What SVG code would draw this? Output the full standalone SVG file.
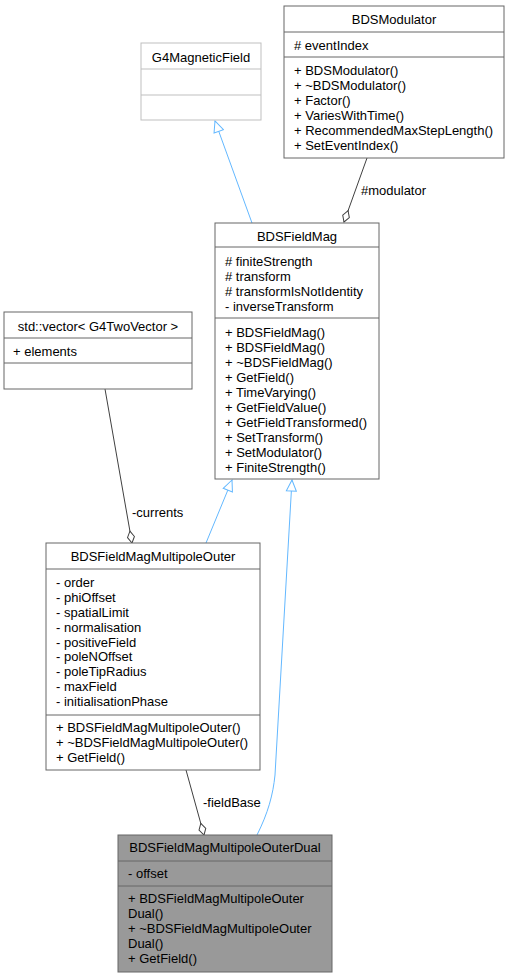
<svg xmlns="http://www.w3.org/2000/svg" width="510" height="978" viewBox="0 0 510 978">
<style>
text{font-family:"Liberation Sans",Arial,sans-serif;font-size:13px;fill:#000}
.t{text-anchor:middle}
.box{fill:#fff;stroke:#666;stroke-width:1}
.gbox{fill:#fff;stroke:#bfbfbf;stroke-width:1}
.dbox{fill:#999;stroke:#666;stroke-width:1}
.sep{stroke:#666;stroke-width:1}
.gsep{stroke:#bfbfbf;stroke-width:1}
.inh{fill:none;stroke:#63b8ff;stroke-width:1;marker-end:url(#tri)}
.agg{fill:none;stroke:#404040;stroke-width:1;marker-end:url(#dia)}
</style>
<defs>
<marker id="tri" markerUnits="userSpaceOnUse" markerWidth="14" markerHeight="12" refX="11" refY="5" orient="auto" viewBox="-1 -1 14 12">
<path d="M0,0 L11,5 L0,10 Z" fill="#fff" stroke="#63b8ff" stroke-width="1"/>
</marker>
<marker id="dia" markerUnits="userSpaceOnUse" markerWidth="15" markerHeight="10" refX="12" refY="4" orient="auto" viewBox="-1 -1 15 10">
<path d="M0,4 L6,0.5 L12,4 L6,7.5 Z" fill="#fff" stroke="#404040" stroke-width="1"/>
</marker>
</defs>
<g id="connectors">
<path class="inh" d="M252,223 L215,121"/>
<path class="agg" d="M367,158 L344,222"/>
<text x="361" y="195">#modulator</text>
<path class="agg" d="M105,389 L132,543"/>
<text x="132" y="517">-currents</text>
<path class="inh" d="M206,543 L232,480"/>
<path class="inh" d="M257,835 C268,813 273,795 275,775 L292,480"/>
<path class="agg" d="M186,770 L204,835"/>
<text x="203" y="807">-fieldBase</text>
</g>
<g id="G4MagneticField">
<rect class="gbox" x="141" y="43" width="120" height="77"/>
<line class="gsep" x1="141" y1="69" x2="261" y2="69"/>
<line class="gsep" x1="141" y1="95" x2="261" y2="95"/>
<text class="t" x="201" y="62">G4MagneticField</text>
</g>
<g id="BDSModulator">
<rect class="box" x="284" y="6" width="220" height="152"/>
<line class="sep" x1="284" y1="32" x2="504" y2="32"/>
<line class="sep" x1="284" y1="57" x2="504" y2="57"/>
<text class="t" x="394" y="24">BDSModulator</text>
<text x="294" y="50"># eventIndex</text>
<text x="294" y="75">+ BDSModulator()</text>
<text x="294" y="90">+ ~BDSModulator()</text>
<text x="294" y="105">+ Factor()</text>
<text x="294" y="120">+ VariesWithTime()</text>
<text x="294" y="135">+ RecommendedMaxStepLength()</text>
<text x="294" y="150">+ SetEventIndex()</text>
</g>
<g id="BDSFieldMag">
<rect class="box" x="215" y="223" width="164" height="256"/>
<line class="sep" x1="215" y1="247" x2="379" y2="247"/>
<line class="sep" x1="215" y1="318" x2="379" y2="318"/>
<text class="t" x="297" y="241">BDSFieldMag</text>
<text x="225" y="266"># finiteStrength</text>
<text x="225" y="281"># transform</text>
<text x="225" y="296"># transformIsNotIdentity</text>
<text x="225" y="311">- inverseTransform</text>
<text x="225" y="337">+ BDSFieldMag()</text>
<text x="225" y="352">+ BDSFieldMag()</text>
<text x="225" y="367">+ ~BDSFieldMag()</text>
<text x="225" y="382">+ GetField()</text>
<text x="225" y="397">+ TimeVarying()</text>
<text x="225" y="412">+ GetFieldValue()</text>
<text x="225" y="427">+ GetFieldTransformed()</text>
<text x="225" y="442">+ SetTransform()</text>
<text x="225" y="457">+ SetModulator()</text>
<text x="225" y="472">+ FiniteStrength()</text>
</g>
<g id="std_vector_G4TwoVector">
<rect class="box" x="4" y="312" width="188" height="77"/>
<line class="sep" x1="4" y1="338" x2="192" y2="338"/>
<line class="sep" x1="4" y1="363" x2="192" y2="363"/>
<text class="t" x="98" y="331">std::vector&lt; G4TwoVector &gt;</text>
<text x="13" y="356">+ elements</text>
</g>
<g id="BDSFieldMagMultipoleOuter">
<rect class="box" x="46" y="543" width="214" height="227"/>
<line class="sep" x1="46" y1="569" x2="260" y2="569"/>
<line class="sep" x1="46" y1="715" x2="260" y2="715"/>
<text class="t" x="153" y="561">BDSFieldMagMultipoleOuter</text>
<text x="56" y="587">- order</text>
<text x="56" y="602">- phiOffset</text>
<text x="56" y="617">- spatialLimit</text>
<text x="56" y="632">- normalisation</text>
<text x="56" y="647">- positiveField</text>
<text x="56" y="661">- poleNOffset</text>
<text x="56" y="676">- poleTipRadius</text>
<text x="56" y="691">- maxField</text>
<text x="56" y="706">- initialisationPhase</text>
<text x="56" y="732">+ BDSFieldMagMultipoleOuter()</text>
<text x="56" y="747">+ ~BDSFieldMagMultipoleOuter()</text>
<text x="56" y="762">+ GetField()</text>
</g>
<g id="BDSFieldMagMultipoleOuterDual">
<rect class="dbox" x="118" y="835" width="214" height="137"/>
<line class="sep" x1="118" y1="861" x2="332" y2="861"/>
<line class="sep" x1="118" y1="886" x2="332" y2="886"/>
<text class="t" x="225" y="852">BDSFieldMagMultipoleOuterDual</text>
<text x="128" y="878">- offset</text>
<text x="128" y="903">+ BDSFieldMagMultipoleOuter</text>
<text x="128" y="918">Dual()</text>
<text x="128" y="933">+ ~BDSFieldMagMultipoleOuter</text>
<text x="128" y="948">Dual()</text>
<text x="128" y="963">+ GetField()</text>
</g>
</svg>
